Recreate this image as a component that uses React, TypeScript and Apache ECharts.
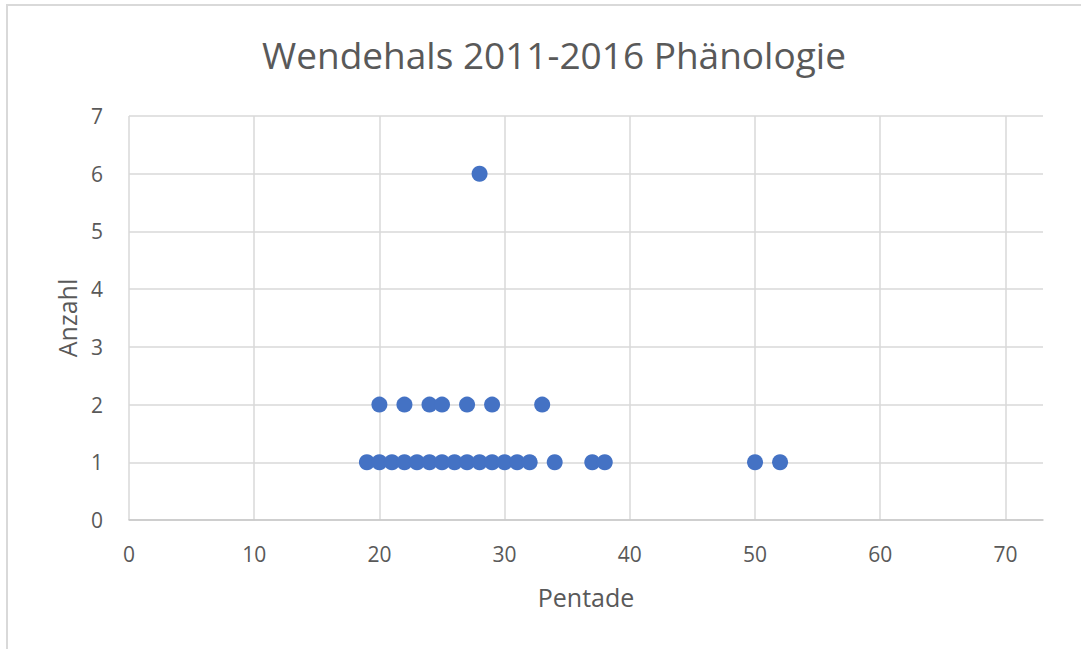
import React, { useEffect, useRef } from "react";
import * as echarts from "echarts";

const titleText = "Wendehals 2011-2016 Phänologie";
const xName = "Pentade";
const yName = "Anzahl";

// Pentade values grouped by count (Anzahl)
const pentadenCount1 = [19, 20, 21, 22, 23, 24, 25, 26, 27, 28, 29, 30, 31, 32, 34, 37, 38, 50, 52];
const pentadenCount2 = [20, 22, 24, 25, 27, 29, 33];
const pentadenCount6 = [28];

const xTicks = [0, 10, 20, 30, 40, 50, 60, 70];
const xMax = 73;
const yMax = 7;

const FONT = "'Open Sans', 'Noto Sans', sans-serif";
const GRAY = "#595959";
const GRID = "#d9d9d9";

export default function App() {
  const ref = useRef<HTMLDivElement>(null);
  useEffect(() => {
    if (!ref.current) return;
    const chart = echarts.init(ref.current, undefined, { renderer: "svg" });
    const data: number[][] = [
      ...pentadenCount1.map((x) => [x, 1]),
      ...pentadenCount2.map((x) => [x, 2]),
      ...pentadenCount6.map((x) => [x, 6]),
    ];
    chart.setOption({
      animation: false,
      backgroundColor: "#ffffff",
      textStyle: { fontFamily: FONT },
      title: {
        text: titleText,
        left: 257,
        top: 31,
        textStyle: { fontFamily: FONT, fontSize: 37, fontWeight: "normal", color: GRAY },
      },
      graphic: [
        { type: "line", shape: { x1: 6, y1: 5, x2: 1081, y2: 5 }, style: { stroke: GRID, lineWidth: 2 } },
        { type: "line", shape: { x1: 7, y1: 5, x2: 7, y2: 649 }, style: { stroke: GRID, lineWidth: 2 } },
      ],
      grid: { left: 129, right: 38, top: 116, bottom: 129 },
      xAxis: {
        type: "value",
        min: 0,
        max: xMax,
        interval: 10,
        name: xName,
        nameLocation: "middle",
        nameGap: 64,
        nameTextStyle: { fontFamily: FONT, fontSize: 25, color: GRAY },
        axisLine: { show: true, lineStyle: { color: "#c8c8c8", width: 1.5 } },
        axisTick: { show: false },
        splitLine: { show: false },
        axisLabel: {
          showMaxLabel: false,
          margin: 23,
          fontFamily: FONT,
          fontSize: 21,
          color: GRAY,
          formatter: (v: number) => (xTicks.includes(v) ? String(v) : ""),
        },
      },
      yAxis: {
        type: "value",
        min: 0,
        max: yMax,
        interval: 1,
        name: yName,
        nameLocation: "middle",
        nameRotate: 90,
        nameGap: 50,
        nameTextStyle: { fontFamily: FONT, fontSize: 25, color: GRAY },
        axisLine: { show: false },
        axisTick: { show: false },
        splitLine: { show: true, lineStyle: { color: GRID, width: 1.5 } },
        axisLabel: { margin: 26, fontFamily: FONT, fontSize: 21, color: GRAY },
      },
      series: [
        {
          type: "scatter",
          data,
          symbol: "circle",
          symbolSize: 16,
          itemStyle: { color: "#4472C4", opacity: 1 },
          markLine: {
            silent: true,
            symbol: "none",
            label: { show: false },
            lineStyle: { color: GRID, width: 1.5, type: "solid" },
            data: xTicks.map((t) => ({ xAxis: t })),
            z: 0,
          },
          z: 3,
        },
      ],
    });
    return () => chart.dispose();
  }, []);
  return (
    <div
      ref={ref}
      style={{ position: "fixed", left: 0, top: 0, width: 1081, height: 649, background: "#fff" }}
    />
  );
}
